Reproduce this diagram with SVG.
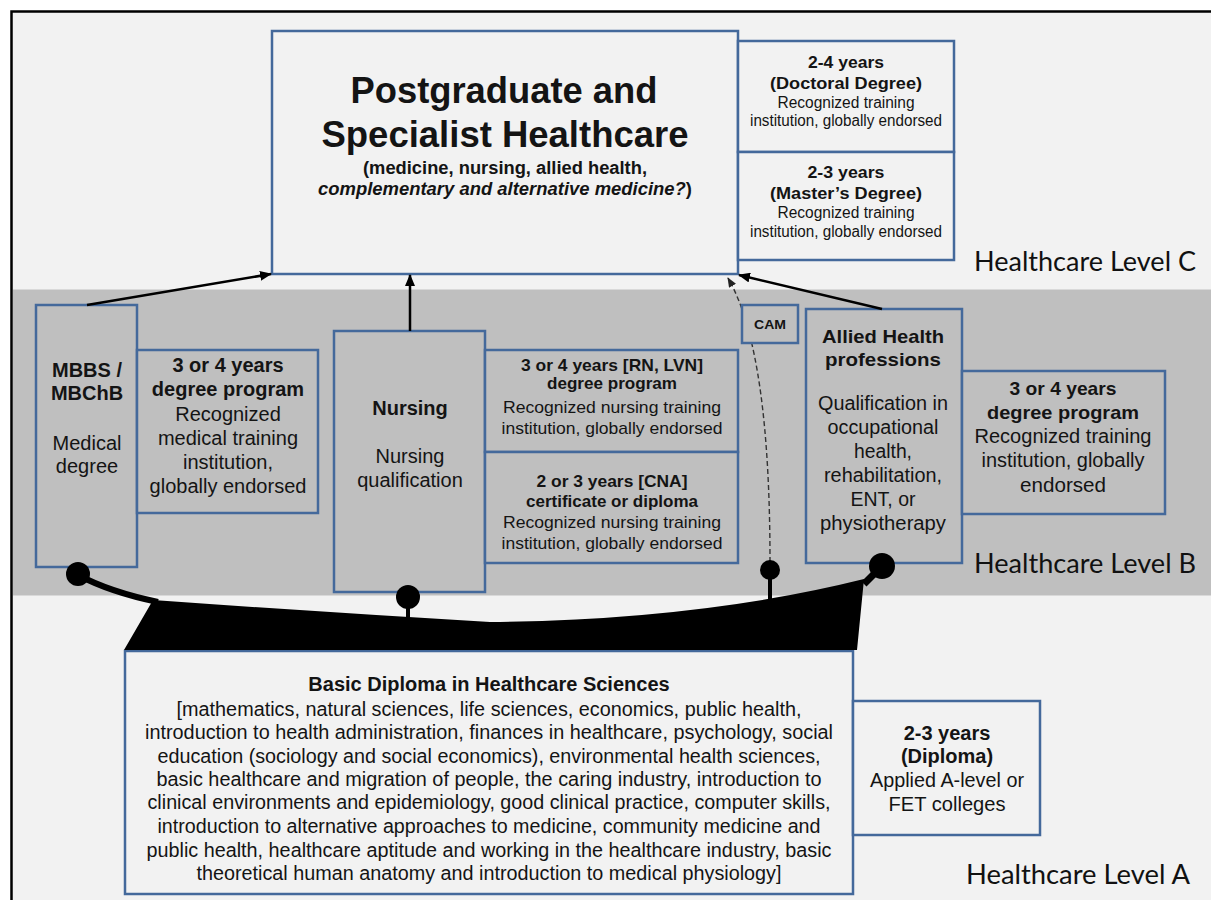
<svg xmlns="http://www.w3.org/2000/svg" width="1211" height="900" viewBox="0 0 1211 900">
  <style>
    .box { stroke: #44699b; stroke-width: 2.5; }
    .light { fill: #f2f2f2; }
    .mid { fill: #bfbfbf; }
    text { font-family: "Liberation Sans", Arial, sans-serif; fill: #141414; text-anchor: middle; }
    .b { font-weight: bold; }
    .t20 { font-size: 20px; }
    .t16 { font-size: 16px; }
    .t17 { font-size: 17px; }
    .lvl { font-family: Lato, "Open Sans", sans-serif; font-size: 27px; text-anchor: start; fill: #111; }
    .arrow { fill: none; stroke: #000; stroke-width: 2.5; }
    .dash { fill: none; stroke: #333; stroke-width: 1.4; stroke-dasharray: 5 3; }
  </style>
  <defs>
    <marker id="head" markerUnits="userSpaceOnUse" markerWidth="12" markerHeight="10" refX="11" refY="5" orient="auto">
      <path d="M0,0 L12,5 L0,10 Z" fill="#000"/>
    </marker>
    <marker id="head-small" markerUnits="userSpaceOnUse" markerWidth="10" markerHeight="8" refX="9" refY="4" orient="auto">
      <path d="M0,0 L10,4 L0,8 Z" fill="#222"/>
    </marker>
  </defs>

  <!-- page frame and level bands -->
  <rect x="11.5" y="11.5" width="1210" height="900" fill="#f2f2f2" stroke="#000" stroke-width="2.5"/>
  <rect x="13" y="289.5" width="1198" height="306" fill="#bfbfbf"/>

  <text class="lvl" x="974" y="271" textLength="222" lengthAdjust="spacingAndGlyphs">Healthcare Level C</text>
  <text class="lvl" x="974" y="573" textLength="222" lengthAdjust="spacingAndGlyphs">Healthcare Level B</text>
  <text class="lvl" x="966" y="884" textLength="224" lengthAdjust="spacingAndGlyphs">Healthcare Level A</text>

  <!-- Level C -->
  <g id="postgraduate">
    <rect class="box light" x="272" y="31" width="466" height="243"/>
    <text class="b" x="504" y="103" font-size="36" textLength="307" lengthAdjust="spacingAndGlyphs">Postgraduate and</text>
    <text class="b" x="505" y="147" font-size="36" textLength="367" lengthAdjust="spacingAndGlyphs">Specialist Healthcare</text>
    <text class="b" x="505" y="174" font-size="18" textLength="284" lengthAdjust="spacingAndGlyphs">(medicine, nursing, allied health,</text>
    <text class="b" x="505" y="195" font-size="18" textLength="374" lengthAdjust="spacingAndGlyphs"><tspan font-style="italic">complementary and alternative medicine?</tspan>)</text>
  </g>

  <g id="doctoral">
    <rect class="box light" x="738" y="41" width="216" height="111"/>
    <text class="b t17" x="846" y="68" textLength="76" lengthAdjust="spacingAndGlyphs">2-4 years</text>
    <text class="b t17" x="846" y="89" textLength="152" lengthAdjust="spacingAndGlyphs">(Doctoral Degree)</text>
    <text class="t16" x="846" y="108" textLength="137" lengthAdjust="spacingAndGlyphs">Recognized training</text>
    <text class="t16" x="846" y="126" textLength="192" lengthAdjust="spacingAndGlyphs">institution, globally endorsed</text>
  </g>

  <g id="masters">
    <rect class="box light" x="738" y="152" width="216" height="108"/>
    <text class="b t17" x="846" y="178" textLength="77" lengthAdjust="spacingAndGlyphs">2-3 years</text>
    <text class="b t17" x="846" y="199" textLength="152" lengthAdjust="spacingAndGlyphs">(Master’s Degree)</text>
    <text class="t16" x="846" y="218" textLength="137" lengthAdjust="spacingAndGlyphs">Recognized training</text>
    <text class="t16" x="846" y="237" textLength="192" lengthAdjust="spacingAndGlyphs">institution, globally endorsed</text>
  </g>

  <!-- Level B -->
  <g id="mbbs">
    <rect class="box mid" x="36" y="305" width="101" height="262"/>
    <text class="b t20" x="87" y="377">MBBS /</text>
    <text class="b t20" x="87" y="400">MBChB</text>
    <text class="t20" x="87" y="450">Medical</text>
    <text class="t20" x="87" y="473">degree</text>
  </g>

  <g id="mbbs-degree">
    <rect class="box mid" x="137" y="350" width="181" height="163"/>
    <text class="b t20" x="228" y="372">3 or 4 years</text>
    <text class="b t20" x="228" y="396">degree program</text>
    <text class="t20" x="228" y="421">Recognized</text>
    <text class="t20" x="228" y="445">medical training</text>
    <text class="t20" x="228" y="469">institution,</text>
    <text class="t20" x="228" y="493">globally endorsed</text>
  </g>

  <g id="nursing">
    <rect class="box mid" x="334" y="331" width="151" height="261"/>
    <text class="b t20" x="410" y="415">Nursing</text>
    <text class="t20" x="410" y="463">Nursing</text>
    <text class="t20" x="410" y="487">qualification</text>
  </g>

  <g id="nursing-degree">
    <rect class="box mid" x="485" y="350" width="253" height="102"/>
    <text class="b t17" x="612" y="371" textLength="182" lengthAdjust="spacingAndGlyphs">3 or 4 years [RN, LVN]</text>
    <text class="b t17" x="612" y="389" textLength="130" lengthAdjust="spacingAndGlyphs">degree program</text>
    <text class="t17" x="612" y="413" textLength="218" lengthAdjust="spacingAndGlyphs">Recognized nursing training</text>
    <text class="t17" x="612" y="434" textLength="221" lengthAdjust="spacingAndGlyphs">institution, globally endorsed</text>
  </g>

  <g id="nursing-certificate">
    <rect class="box mid" x="485" y="452" width="253" height="111"/>
    <text class="b t17" x="612" y="487" textLength="151" lengthAdjust="spacingAndGlyphs">2 or 3 years [CNA]</text>
    <text class="b t17" x="612" y="507" textLength="172" lengthAdjust="spacingAndGlyphs">certificate or diploma</text>
    <text class="t17" x="612" y="528" textLength="218" lengthAdjust="spacingAndGlyphs">Recognized nursing training</text>
    <text class="t17" x="612" y="549" textLength="221" lengthAdjust="spacingAndGlyphs">institution, globally endorsed</text>
  </g>

  <g id="allied">
    <rect class="box mid" x="806" y="309" width="156" height="254"/>
    <text class="b" x="883" y="343" font-size="19" textLength="122" lengthAdjust="spacingAndGlyphs">Allied Health</text>
    <text class="b" x="883" y="366" font-size="19" textLength="116" lengthAdjust="spacingAndGlyphs">professions</text>
    <text class="t20" x="883" y="410" textLength="130" lengthAdjust="spacingAndGlyphs">Qualification in</text>
    <text class="t20" x="883" y="434" textLength="111" lengthAdjust="spacingAndGlyphs">occupational</text>
    <text class="t20" x="883" y="458" textLength="58" lengthAdjust="spacingAndGlyphs">health,</text>
    <text class="t20" x="883" y="482" textLength="118" lengthAdjust="spacingAndGlyphs">rehabilitation,</text>
    <text class="t20" x="883" y="506" textLength="65" lengthAdjust="spacingAndGlyphs">ENT, or</text>
    <text class="t20" x="883" y="530" textLength="126" lengthAdjust="spacingAndGlyphs">physiotherapy</text>
  </g>

  <g id="allied-degree">
    <rect class="box mid" x="962" y="371" width="203" height="143"/>
    <text class="b" x="1063" y="395" font-size="19" textLength="107" lengthAdjust="spacingAndGlyphs">3 or 4 years</text>
    <text class="b" x="1063" y="419" font-size="19" textLength="152" lengthAdjust="spacingAndGlyphs">degree program</text>
    <text class="t20" x="1063" y="443" textLength="177" lengthAdjust="spacingAndGlyphs">Recognized training</text>
    <text class="t20" x="1063" y="467" textLength="163" lengthAdjust="spacingAndGlyphs">institution, globally</text>
    <text class="t20" x="1063" y="492" textLength="86" lengthAdjust="spacingAndGlyphs">endorsed</text>
  </g>

  <!-- Level A -->
  <g id="basic-diploma">
    <rect class="box light" x="125" y="651" width="728" height="243"/>
    <text class="b t20" x="489" y="691">Basic Diploma in Healthcare Sciences</text>
    <text class="t20" x="489" y="716" textLength="625" lengthAdjust="spacingAndGlyphs">[mathematics, natural sciences, life sciences, economics, public health,</text>
    <text class="t20" x="489" y="739" textLength="688" lengthAdjust="spacingAndGlyphs">introduction to health administration, finances in healthcare, psychology, social</text>
    <text class="t20" x="489" y="763" textLength="663" lengthAdjust="spacingAndGlyphs">education (sociology and social economics), environmental health sciences,</text>
    <text class="t20" x="489" y="786" textLength="665" lengthAdjust="spacingAndGlyphs">basic healthcare and migration of people, the caring industry, introduction to</text>
    <text class="t20" x="489" y="809" textLength="683" lengthAdjust="spacingAndGlyphs">clinical environments and epidemiology, good clinical practice, computer skills,</text>
    <text class="t20" x="489" y="833" textLength="663" lengthAdjust="spacingAndGlyphs">introduction to alternative approaches to medicine, community medicine and</text>
    <text class="t20" x="489" y="857" textLength="685" lengthAdjust="spacingAndGlyphs">public health, healthcare aptitude and working in the healthcare industry, basic</text>
    <text class="t20" x="489" y="880" textLength="585" lengthAdjust="spacingAndGlyphs">theoretical human anatomy and introduction to medical physiology]</text>
  </g>

  <g id="diploma-duration">
    <rect class="box light" x="853" y="701" width="187" height="134"/>
    <text class="b t20" x="947" y="740">2-3 years</text>
    <text class="b t20" x="947" y="763">(Diploma)</text>
    <text class="t20" x="947" y="787" textLength="154" lengthAdjust="spacingAndGlyphs">Applied A-level or</text>
    <text class="t20" x="947" y="811" textLength="117" lengthAdjust="spacingAndGlyphs">FET colleges</text>
  </g>

  <!-- connectors: progression arrows, CAM pathway and the shared foundation -->
  <g id="connectors">
    <line class="arrow" x1="87" y1="305" x2="271" y2="274" marker-end="url(#head)"/>
    <line class="arrow" x1="410" y1="331" x2="410" y2="275" marker-end="url(#head)"/>
    <line class="arrow" x1="882" y1="309" x2="739" y2="275" marker-end="url(#head)"/>
    <path class="dash" d="M770,562 C770,430 758,330 728,278" marker-end="url(#head-small)"/>

    <path d="M124,650 L153,600 Q320,612 490,622 Q700,620 864,579 L857,650 Z" fill="#000"/>
    <path d="M78,575 Q110,592 158,602" fill="none" stroke="#000" stroke-width="6"/>
    <path d="M882,566 L864,584" fill="none" stroke="#000" stroke-width="7"/>
    <line x1="408" y1="597" x2="408" y2="622" stroke="#000" stroke-width="4"/>
    <line x1="770" y1="570" x2="770" y2="605" stroke="#000" stroke-width="4"/>
    <circle cx="78" cy="574" r="12" fill="#000"/>
    <circle cx="408" cy="597" r="12" fill="#000"/>
    <circle cx="770" cy="570" r="10" fill="#000"/>
    <circle cx="882" cy="566" r="13" fill="#000"/>
  </g>

  <g id="cam">
    <rect class="box mid" x="742" y="305" width="56" height="38"/>
    <text class="b" x="770" y="329" font-size="12" textLength="32" lengthAdjust="spacingAndGlyphs">CAM</text>
  </g>
</svg>
